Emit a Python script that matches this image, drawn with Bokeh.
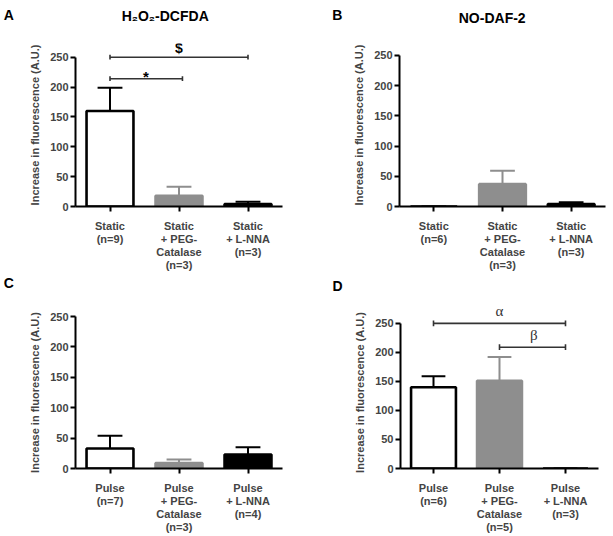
from bokeh.plotting import figure
from bokeh.layouts import column, row
from bokeh.models import FixedTicker, Label
from bokeh.embed import file_html
from bokeh.resources import INLINE
from bokeh.core.properties import value

# ---- data -------------------------------------------------------------
static_labels_a = ["Static\n(n=9)", "Static\n+ PEG-\nCatalase\n(n=3)", "Static\n+ L-NNA\n(n=3)"]
static_labels_b = ["Static\n(n=6)", "Static\n+ PEG-\nCatalase\n(n=3)", "Static\n+ L-NNA\n(n=3)"]
pulse_labels_c = ["Pulse\n(n=7)", "Pulse\n+ PEG-\nCatalase\n(n=3)", "Pulse\n+ L-NNA\n(n=4)"]
pulse_labels_d = ["Pulse\n(n=6)", "Pulse\n+ PEG-\nCatalase\n(n=5)", "Pulse\n+ L-NNA\n(n=3)"]

h2o2_static_mean = [160, 18, 4]
h2o2_static_err = [39, 15, 4]
no_static_mean = [0, 37, 4]
no_static_err = [0, 22, 3]
h2o2_pulse_mean = [33, 9, 23]
h2o2_pulse_err = [21, 6, 12]
no_pulse_mean = [140, 151, 0]
no_pulse_err = [19, 41, 0]

y_ticks = [0, 50, 100, 150, 200, 250]

FONT = "Liberation Sans"
FILL = ["white", "#8e8e8e", "black"]
EDGE = ["black", "#8e8e8e", "black"]
BAR_W = 0.68
CAP_W = 0.36


def make_panel(labels, means, errs, width, height, left, right, top, bottom, y_end):
    p = figure(width=width, height=height, x_range=(-0.5, 2.5), y_range=(0, y_end),
               output_backend="svg", toolbar_location=None, title_location=None,
               min_border_left=left, min_border_right=right,
               min_border_top=top, min_border_bottom=bottom)
    p.outline_line_color = None
    p.grid.visible = False
    p.background_fill_color = "white"
    p.border_fill_color = "white"

    xs = [0, 1, 2]
    p.vbar(x=xs, top=means, width=BAR_W, fill_color=FILL, line_color=EDGE, line_width=2.6)
    # upper error bars with caps
    upper = [m + e for m, e in zip(means, errs)]
    p.segment(x0=xs, y0=means, x1=xs, y1=upper, line_color=EDGE, line_width=2)
    p.segment(x0=[x - CAP_W / 2 for x in xs], y0=upper,
              x1=[x + CAP_W / 2 for x in xs], y1=upper, line_color=EDGE, line_width=2)

    yax = p.yaxis[0]
    yax.bounds = (0, 250)
    yax.ticker = FixedTicker(ticks=y_ticks)
    yax.axis_label = "Increase in fluorescence (A.U.)"
    yax.axis_label_text_font = FONT
    yax.axis_label_text_font_style = "bold"
    yax.axis_label_text_font_size = "11px"
    yax.axis_label_standoff = 6
    yax.major_label_text_font = FONT
    yax.major_label_text_font_style = "bold"
    yax.major_label_text_font_size = "11px"
    yax.major_label_standoff = 2
    yax.major_tick_out = 5
    yax.major_tick_in = 0
    yax.minor_tick_out = 0
    yax.minor_tick_in = 0
    yax.axis_line_width = 2
    yax.major_tick_line_width = 2

    xax = p.xaxis[0]
    xax.bounds = (-0.5, 2.5)
    xax.ticker = FixedTicker(ticks=xs)
    xax.major_label_overrides = {i: lab for i, lab in enumerate(labels)}
    xax.major_label_text_font = FONT
    xax.major_label_text_font_style = "bold"
    xax.major_label_text_font_size = "11px"
    xax.major_label_text_line_height = 1.1
    xax.major_label_standoff = 8
    xax.major_tick_out = 5
    xax.major_tick_in = 0
    xax.minor_tick_out = 0
    xax.minor_tick_in = 0
    xax.axis_line_width = 2
    xax.major_tick_line_width = 2
    return p


def bracket(p, x0, x1, y, tick=4):
    p.segment(x0=[x0], y0=[y], x1=[x1], y1=[y], line_color="#333333", line_width=1.6)
    p.segment(x0=[x0, x1], y0=[y - tick, y - tick], x1=[x0, x1], y1=[y + tick, y + tick],
              line_color="#333333", line_width=1.6)


def outside_text(p, text, x, y, side, size="14px", align="center", font=FONT,
                 style="bold", color="black"):
    # text placed on the plot's own scales, in a side panel so it is not clipped
    p.add_layout(Label(x=x, y=y, text=text, text_font=font, text_font_style=style,
                       text_font_size=size, text_align=align, text_baseline="middle",
                       text_color=color), side)


# plots in a row share frame top/bottom, so each y range end is chosen per panel

# ---- panel A: H2O2 static ----
pa = make_panel(static_labels_a, h2o2_static_mean, h2o2_static_err,
                306, 274, 75, 24, 43, 66, 273)
bracket(pa, 0, 2, 250)
bracket(pa, 0, 1.05, 214)
pa.text(x=[1.0], y=[266], text=["$"], text_font=value(FONT), text_font_style="bold",
        text_font_size="14px", text_align="center", text_baseline="middle")
pa.text(x=[0.52], y=[218], text=["*"], text_font=value(FONT), text_font_style="bold",
        text_font_size="15px", text_align="center", text_baseline="alphabetic")
outside_text(pa, "H\u2082O\u2082-DCFDA", 0.80, 319, "above")
outside_text(pa, "A", -1.54, 321, "left", align="left")

# ---- panel B: NO static ----
pb = make_panel(static_labels_b, no_static_mean, no_static_err,
                307, 274, 93, 8, 43, 66, 269.6)
outside_text(pb, "NO-DAF-2", 0.85, 312, "above")
outside_text(pb, "B", -1.48, 317, "left", align="left")

# ---- panel C: H2O2 pulse ----
pc = make_panel(pulse_labels_c, h2o2_pulse_mean, h2o2_pulse_err,
                306, 262, 75, 24, 42, 66, 250)
outside_text(pc, "C", -1.54, 305, "left", align="left")

# ---- panel D: NO pulse ----
pd = make_panel(pulse_labels_d, no_pulse_mean, no_pulse_err,
                307, 262, 94, 15, 42, 66, 261.9)
bracket(pd, 0, 2, 250, tick=5)
bracket(pd, 1, 2, 209, tick=5)
outside_text(pd, "\u03b1", 1.0, 272, "above", size="15px", font="Liberation Serif",
             style="normal", color="#333333")
pd.text(x=[1.52], y=[229.6], text=["\u03b2"], text_font=value("Liberation Serif"),
        text_font_size="15px", text_align="center", text_baseline="middle",
        text_color="#333333")
outside_text(pd, "D", -1.53, 314.6, "left", align="left")

layout = column(row(pa, pb, spacing=0), row(pc, pd, spacing=0), spacing=0)
open("out.html", "w").write(file_html(layout, INLINE))
